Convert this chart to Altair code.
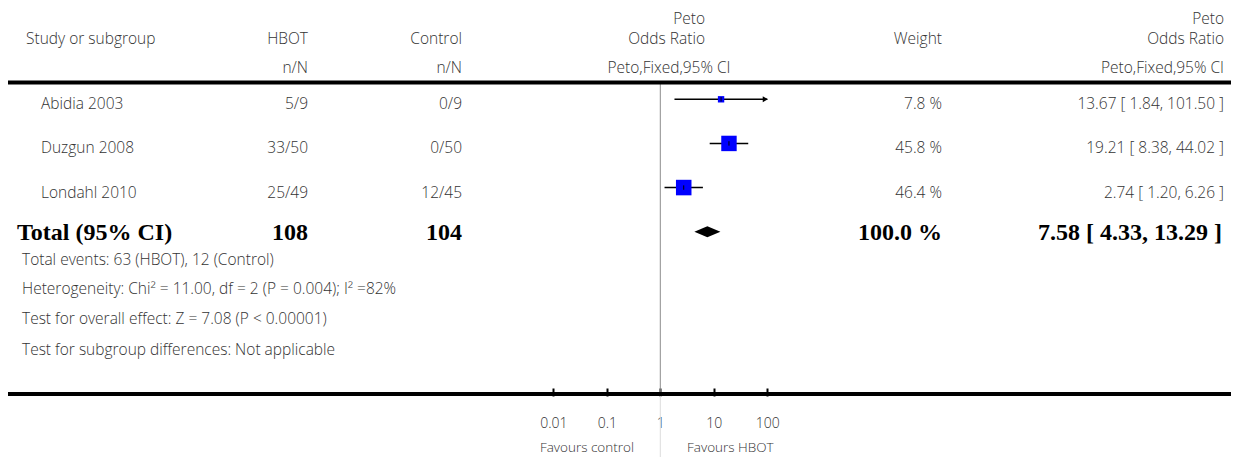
import altair as alt
import pandas as pd

# ---------------- data ----------------
studies = ["Abidia 2003", "Duzgun 2008", "Londahl 2010"]
hbot_nN = ["5/9", "33/50", "25/49"]
control_nN = ["0/9", "0/50", "12/45"]
weights = [7.8, 45.8, 46.4]
or_est = [13.67, 19.21, 2.74]
or_lo = [1.84, 8.38, 1.20]
or_hi = [101.50, 44.02, 6.26]

total_label = "Total (95% CI)"
total_hbot = "108"
total_control = "104"
total_weight = 100.0
total_est = 7.58
total_lo = 4.33
total_hi = 13.29

header_study = "Study or subgroup"
header_hbot = ["HBOT", "n/N"]
header_control = ["Control", "n/N"]
header_or = ["Peto", "Odds Ratio", "Peto,Fixed,95% CI"]
header_weight = "Weight"

footer_lines = [
    "Total events: 63 (HBOT), 12 (Control)",
    "Heterogeneity: Chi\u00b2 = 11.00, df = 2 (P = 0.004); I\u00b2 =82%",
    "Test for overall effect: Z = 7.08 (P < 0.00001)",
    "Test for subgroup differences: Not applicable",
]
axis_ticks = [0.01, 0.1, 1, 10, 100]
favours = ["Favours control", "Favours HBOT"]

# ---------------- style ----------------
FONT = "Open Sans"
FW = 300
SERIF = "Liberation Serif"
FS = 15.5
BFS = 24
TXT = "#333333"

X_SCALE = alt.Scale(type="log", domain=[axis_ticks[0], axis_ticks[-1]], range=[545.3, 759.3])
Y_SCALE = alt.Scale(domain=[0, 3], range=[91.3, 223.7])
Y = alt.Y("row:Q", scale=Y_SCALE, axis=None)

AXIS = alt.Axis(
    values=axis_ticks, format="~g", orient="bottom", offset=-8, domain=False, grid=False,
    ticks=True, tickSize=8, tickWidth=2, tickColor="black",
    labelFont=FONT, labelFontWeight=FW, labelFontSize=14, labelColor=TXT, labelPadding=27,
    labelBaseline="middle", labelFlush=False, labelOverlap=False, title=None,
)


def X(field):
    return alt.X(field, scale=X_SCALE, axis=AXIS)


df = pd.DataFrame({
    "row": list(range(len(studies))),
    "study": studies,
    "hbot": hbot_nN,
    "control": control_nN,
    "weight": weights,
    "est": or_est,
    "lo": or_lo,
    "hi": or_hi,
})
df["wtxt"] = [f"{w:.1f} %" for w in weights]
df["citxt"] = [f"{e:.2f} [ {l:.2f}, {h:.2f} ]" for e, l, h in zip(or_est, or_lo, or_hi)]

dft = pd.DataFrame({
    "row": [3],
    "label": [total_label],
    "hbot": [total_hbot],
    "control": [total_control],
    "wtxt": [f"{total_weight:.1f} %"],
    "citxt": [f"{total_est:.2f} [ {total_lo:.2f}, {total_hi:.2f} ]"],
})

dfd = pd.DataFrame({
    "x": [total_lo, total_est, total_hi],
    "row": [3, 3, 3],
    "k": [0, 1, 0],
})

base = alt.Chart(df)
layers = []

# reference line at OR = 1
layers.append(alt.Chart(pd.DataFrame({"v": [1]})).mark_rule(color="#8c8c8c", strokeWidth=1).encode(
    x=X("v:Q"), y=alt.value(76), y2=alt.value(384)))
layers.append(alt.Chart(pd.DataFrame({"v": [1]})).mark_rule(color="#dddddd", strokeWidth=1).encode(
    x=X("v:Q"), y=alt.value(388), y2=alt.value(449)))

# CI lines (clipped to axis range)
ci = base.transform_calculate(
    lo_c=f"max(datum.lo, {axis_ticks[0]})", hi_c=f"min(datum.hi, {axis_ticks[-1]})"
).mark_rule(color="black", strokeWidth=1.4).encode(
    x=X("lo_c:Q"), x2="hi_c:Q", y=Y)
layers.append(ci)

# arrows for CI beyond axis
arrow = base.transform_filter(f"datum.hi > {axis_ticks[-1]}").transform_calculate(
    xa=f"{axis_ticks[-1]}"
).mark_point(shape="triangle-right", filled=True, size=35, color="black", opacity=1, xOffset=-2).encode(
    x=X("xa:Q"), y=Y)
layers.append(arrow)

# squares
sq = base.mark_square(color="#0000ff", opacity=1).encode(
    x=X("est:Q"), y=Y,
    size=alt.Size("weight:Q", scale=alt.Scale(domain=[0, 50], range=[0, 260]), legend=None))
layers.append(sq)

# small center tick in squares
ctick = base.transform_calculate(ya="datum.row - 0.05", yb="datum.row + 0.05").mark_rule(
    color="black", strokeWidth=1).encode(
    x=X("est:Q"),
    y=alt.Y("ya:Q", scale=Y_SCALE, axis=None), y2="yb:Q")
layers.append(ctick)

# diamond
diamond = alt.Chart(dfd).transform_calculate(
    ytop="datum.row - 0.125 * datum.k", ybot="datum.row + 0.125 * datum.k"
).mark_area(color="black", orient="vertical", opacity=1).encode(
    x=X("x:Q"),
    y=alt.Y("ytop:Q", scale=Y_SCALE, axis=None), y2="ybot:Q")
layers.append(diamond)


def txt(data, field, x, align, font=FONT, size=FS, weight=FW, color=TXT, dy=5):
    return alt.Chart(data).mark_text(
        align=align, baseline="middle", font=font, fontSize=size, fontWeight=weight,
        color=color, dy=dy,
    ).encode(x=alt.value(x), y=Y, text=f"{field}:N")


# study rows text
layers.append(txt(df, "study", 33, "left"))
layers.append(txt(df, "hbot", 300, "right"))
layers.append(txt(df, "control", 454, "right"))
layers.append(txt(df, "wtxt", 934, "right"))
layers.append(txt(df, "citxt", 1216, "right"))

# total row text
for field, x, al in [("label", 9, "left"), ("hbot", 300, "right"), ("control", 454, "right"),
                     ("wtxt", 934, "right"), ("citxt", 1214, "right")]:
    layers.append(txt(dft, field, x, al, font=SERIF, size=BFS, weight="bold", color="black", dy=1))


# header / footer text
def htxt(s, x, y, align, size=FS, baseline="middle"):
    return alt.Chart(pd.DataFrame({"t": [s]})).mark_text(
        align=align, baseline=baseline, font=FONT, fontSize=size, fontWeight=FW, color=TXT
    ).encode(x=alt.value(x), y=alt.value(y), text="t:N")


layers.append(htxt(header_study, 18, 31, "left"))
layers.append(htxt(header_hbot[0], 300, 31, "right"))
layers.append(htxt(header_hbot[1], 300, 60, "right"))
layers.append(htxt(header_control[0], 454, 31, "right"))
layers.append(htxt(header_control[1], 454, 60, "right"))
layers.append(htxt(header_or[0], 697, 11, "right"))
layers.append(htxt(header_or[1], 697, 31, "right"))
layers.append(htxt(header_or[2], 661, 60, "center"))
layers.append(htxt(header_weight, 934, 31, "right"))
layers.append(htxt(header_or[0], 1216, 11, "right"))
layers.append(htxt(header_or[1], 1216, 31, "right"))
layers.append(htxt(header_or[2], 1216, 60, "right"))

for line, y in zip(footer_lines, [252, 281, 311, 342]):
    layers.append(htxt(line, 14, y, "left"))

layers.append(htxt(favours[0], 626, 440, "right", size=13.5))
layers.append(htxt(favours[1], 679, 440, "left", size=13.5))

# horizontal rules (full width)
layers.append(alt.Chart(pd.DataFrame({"a": [0]})).mark_rule(color="black", strokeWidth=4).encode(
    x=alt.value(0), x2=alt.value(1223), y=alt.value(74.5)))
layers.append(alt.Chart(pd.DataFrame({"a": [0]})).mark_rule(color="black", strokeWidth=4).encode(
    x=alt.value(0), x2=alt.value(1223), y=alt.value(386)))

chart = alt.layer(*layers).properties(
    width=1223, height=388,
    autosize=alt.AutoSizeParams(type="none"),
    padding={"left": 0, "top": 0, "right": 0, "bottom": 61},
).configure_view(stroke=None)

chart.save("out.html", embed_options={"renderer": "svg", "actions": False})
